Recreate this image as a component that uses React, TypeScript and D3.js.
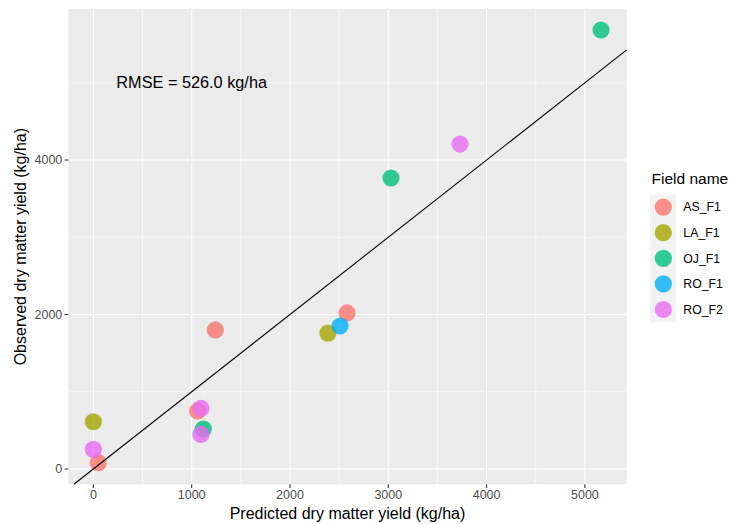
import React from "react";
import * as d3 from "d3";

const fields = ["AS_F1", "LA_F1", "OJ_F1", "RO_F1", "RO_F2"];
const colors = ["#F8766D", "#A3A500", "#00BF7D", "#00B0F6", "#E76BF3"];

const pointField = ["AS_F1", "AS_F1", "AS_F1", "AS_F1", "LA_F1", "LA_F1", "OJ_F1", "OJ_F1", "OJ_F1", "RO_F1", "RO_F2", "RO_F2", "RO_F2", "RO_F2"];
const predicted = [50, 1240, 1060, 2580, 0, 2385, 5164, 3027, 1118, 2509, 0, 1094, 1094, 3730];
const observed = [82, 1800, 751, 2020, 612, 1760, 5683, 3767, 518, 1851, 255, 786, 449, 4207];

const xTicks = [0, 1000, 2000, 3000, 4000, 5000];
const xMinor = [500, 1500, 2500, 3500, 4500];
const yTicks = [0, 2000, 4000];
const yMinor = [1000, 3000, 5000];

const W = 729, H = 524;
const panel = { left: 68.3, right: 626.7, top: 9, bottom: 484.3 };
const xDomain = [-255, 5425];
const yDomain = [-198, 5955];

export default function App() {
  const x = d3.scaleLinear().domain(xDomain).range([panel.left, panel.right]);
  const y = d3.scaleLinear().domain(yDomain).range([panel.bottom, panel.top]);
  const color = d3.scaleOrdinal<string, string>().domain(fields).range(colors);
  const font = "Liberation Sans, Arial, sans-serif";
  const lineStart = Math.max(xDomain[0], yDomain[0]);
  const lineEnd = Math.min(xDomain[1], yDomain[1]);
  const keyH = 25.6;
  const keyTop = 194.3;

  return (
    <svg width={W} height={H} style={{ position: "absolute", left: 0, top: 0 }} fontFamily={font}>
      <rect x={0} y={0} width={W} height={H} fill="white" />
      <rect x={panel.left} y={panel.top} width={panel.right - panel.left} height={panel.bottom - panel.top} fill="#EBEBEB" />
      {xMinor.map((t) => (
        <line key={"xm" + t} x1={x(t)} x2={x(t)} y1={panel.top} y2={panel.bottom} stroke="white" strokeWidth={0.55} />
      ))}
      {yMinor.map((t) => (
        <line key={"ym" + t} y1={y(t)} y2={y(t)} x1={panel.left} x2={panel.right} stroke="white" strokeWidth={0.55} />
      ))}
      {xTicks.map((t) => (
        <line key={"xM" + t} x1={x(t)} x2={x(t)} y1={panel.top} y2={panel.bottom} stroke="white" strokeWidth={1.1} />
      ))}
      {yTicks.map((t) => (
        <line key={"yM" + t} y1={y(t)} y2={y(t)} x1={panel.left} x2={panel.right} stroke="white" strokeWidth={1.1} />
      ))}
      {predicted.map((p, i) => (
        <circle key={"pt" + i} cx={x(p)} cy={y(observed[i])} r={8.6} fill={color(pointField[i])} fillOpacity={0.8} />
      ))}
      <line x1={x(lineStart)} y1={y(lineStart)} x2={x(lineEnd)} y2={y(lineEnd)} stroke="black" strokeWidth={1.1} />
      <text x={x(1000)} y={y(5000)} dy="0.35em" textAnchor="middle" fontSize={16.3} fill="black">RMSE = 526.0 kg/ha</text>
      {xTicks.map((t) => (
        <g key={"xt" + t}>
          <line x1={x(t)} x2={x(t)} y1={panel.bottom} y2={panel.bottom + 3.7} stroke="#333333" strokeWidth={1.1} />
          <text x={x(t)} y={panel.bottom + 14.5} textAnchor="middle" fontSize={12.5} fill="#4D4D4D">{t}</text>
        </g>
      ))}
      {yTicks.map((t) => (
        <g key={"yt" + t}>
          <line x1={panel.left - 3.7} x2={panel.left} y1={y(t)} y2={y(t)} stroke="#333333" strokeWidth={1.1} />
          <text x={panel.left - 6} y={y(t)} dy="0.35em" textAnchor="end" fontSize={12.5} fill="#4D4D4D">{t}</text>
        </g>
      ))}
      <text x={(panel.left + panel.right) / 2} y={519} textAnchor="middle" fontSize={16} fill="black">Predicted dry matter yield (kg/ha)</text>
      <text transform={`translate(${25.5},${(panel.top + panel.bottom) / 2}) rotate(-90)`} textAnchor="middle" fontSize={16} fill="black">Observed dry matter yield (kg/ha)</text>
      <text x={651.5} y={184} fontSize={15.5} fill="black">Field name</text>
      {fields.map((f, i) => (
        <g key={"lg" + f}>
          <rect x={650} y={keyTop + i * keyH} width={26} height={keyH} fill="#F2F2F2" />
          <circle cx={663.3} cy={keyTop + i * keyH + keyH / 2} r={8.6} fill={color(f)} fillOpacity={0.8} />
          <text x={683.3} y={keyTop + i * keyH + keyH / 2} dy="0.35em" fontSize={12.3} fill="black">{f}</text>
        </g>
      ))}
    </svg>
  );
}
